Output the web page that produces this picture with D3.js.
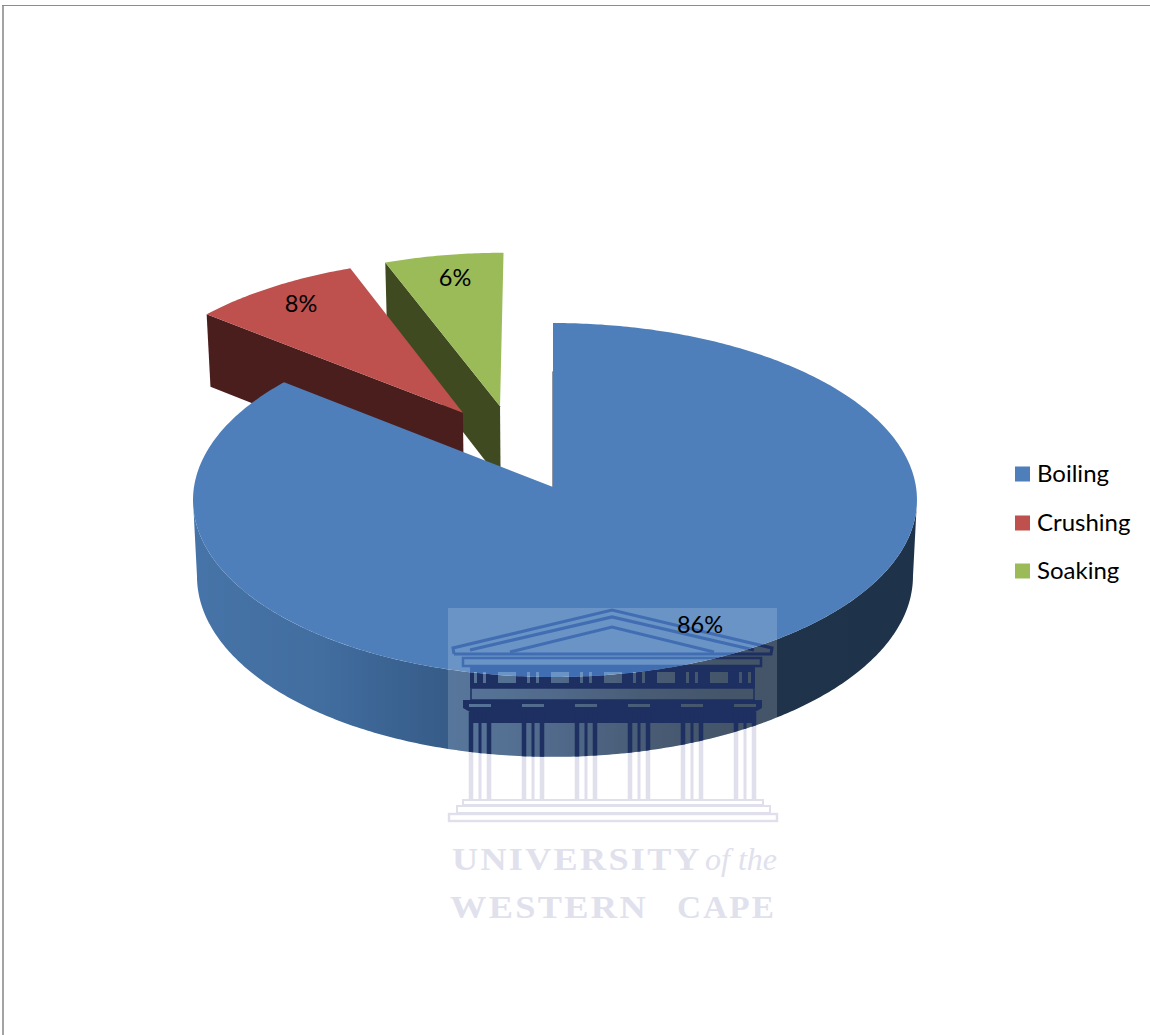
<!DOCTYPE html>
<html>
<head>
<meta charset="utf-8">
<script src="https://cdn.jsdelivr.net/npm/d3@7"></script>
<style>
html,body{margin:0;padding:0;background:#fff;}
svg{display:block;}
</style>
</head>
<body>
<svg id="chart" width="1150" height="1035"></svg>
<script>
// ---- data ----
const categories = ["Boiling", "Crushing", "Soaking"];
const values = [85.7, 8.4, 5.9];
const labels = ["86%", "8%", "6%"];

// ---- style ----
const topColors = ["#4e7fbb", "#be504d", "#9bbb59"];
const wallColors = [null, "#4b1e1e", "#3f4a21"];
const explode = [[0, 0], [-0.258, -0.435], [-0.152, -0.475]];
const labelPos = [[700, 625], [301, 304], [455, 278]];
const legendY = [474, 523, 571];

// ---- perspective projection of the unit disc ----
const K = -0.0734, DEPTH = 76, BOTTOM_SCALE = 0.989, SKEW = 2;
const xS = d3.scaleLinear().domain([-1, 1]).range([553 - 361, 553 + 361]);
const yS = d3.scaleLinear().domain([-1, 1]).range([487 - 176, 487 + 176]);
function project(u, v, low) {
  const den = 1 + K * v, s = low ? BOTTOM_SCALE : 1;
  return [xS(s * u / den) + SKEW * u * u, yS(s * v / den) + (low ? DEPTH / den : 0)];
}
const line = d3.line().curve(d3.curveLinear);
const pie = d3.pie().sort(null).value(d => d)(values);

function rim(a0, a1, off, low) {
  const n = Math.max(4, Math.ceil((a1 - a0) * 90));
  return d3.range(n + 1).map(i => {
    const a = a0 + (a1 - a0) * i / n;
    return project(off[0] + Math.sin(a), off[1] - Math.cos(a), low);
  });
}
function topPath(d, off) {
  return line([project(off[0], off[1], false), ...rim(d.startAngle, d.endAngle, off, false)]) + "Z";
}
function radialWall(a, off) {
  const o = [off[0] + Math.sin(a), off[1] - Math.cos(a)];
  return line([project(off[0], off[1], false), project(o[0], o[1], false),
               project(o[0], o[1], true), project(off[0], off[1], true)]) + "Z";
}

const svg = d3.select("#chart");
const defs = svg.append("defs");

// wall gradient
const grad = defs.append("linearGradient").attr("id", "wallGrad")
  .attr("gradientUnits", "userSpaceOnUse")
  .attr("x1", xS(-1)).attr("x2", xS(1)).attr("y1", 0).attr("y2", 0);
[[0, "#4774a8"], [0.18, "#416d9f"], [0.36, "#365b87"], [0.5, "#2e4c74"], [0.62, "#243c5a"], [0.74, "#1f334b"], [1, "#1e3249"]]
  .forEach(s => grad.append("stop").attr("offset", s[0]).attr("stop-color", s[1]));

// page frame
svg.append("line").attr("x1", 2).attr("x2", 1150).attr("y1", 5.5).attr("y2", 5.5).attr("stroke", "#8c8c8c").attr("stroke-width", 1.2);
svg.append("line").attr("x1", 3).attr("x2", 3).attr("y1", 5).attr("y2", 1035).attr("stroke", "#8c8c8c").attr("stroke-width", 1.6);

// watermark
const colCenters = [480, 533, 586, 639, 692, 745];
const windows = [498, 551, 604, 657, 710];
function building(g, color) {
  const stroke = (pts, w) => g.append("path").attr("d", line(pts)).attr("fill", "none")
    .attr("stroke", color).attr("stroke-width", w).attr("stroke-linejoin", "miter");
  stroke([[454, 654], [453, 648], [612, 610], [772, 648], [771, 654], [454, 654]], 3);
  stroke([[470, 650], [612, 617], [754, 650]], 3.2);
  stroke([[510, 652], [612, 627], [714, 652]], 3);
  g.append("rect").attr("x", 463).attr("y", 658).attr("width", 298).attr("height", 8)
    .attr("fill", "none").attr("stroke", color).attr("stroke-width", 2.5);
  // frieze with windows and slits
  let d = "M470 667H755V688H470Z";
  windows.forEach(x => { d += `M${x} 672h18v11h-18Z`; });
  colCenters.forEach(x => { d += `M${x - 6} 672h3v11h-3Z M${x + 3} 672h3v11h-3Z`; });
  g.append("path").attr("d", d).attr("fill", color).attr("fill-rule", "evenodd");
  g.append("rect").attr("x", 471).attr("y", 688).attr("width", 283).attr("height", 12)
    .attr("fill", "none").attr("stroke", color).attr("stroke-width", 1.5);
  // dark band with capitals
  let b = "M463 700H762V708L755 712V723H470V712L463 708Z";
  colCenters.forEach(x => { b += `M${x - 11} 704h22v3h-22Z`; });
  g.append("path").attr("d", b).attr("fill", color).attr("fill-rule", "evenodd");
  // columns
  colCenters.forEach(x => [[-9, 4.5], [0, 3], [9, 4.5]].forEach(o => {
    g.append("rect").attr("x", x + o[0] - o[1] / 2).attr("y", 712).attr("width", o[1]).attr("height", 88).attr("fill", color);
  }));
  // steps
  g.append("rect").attr("x", 463).attr("y", 800).attr("width", 300).attr("height", 5).attr("fill", "none").attr("stroke", color).attr("stroke-width", 2);
  g.append("rect").attr("x", 457).attr("y", 806).attr("width", 313).attr("height", 7).attr("fill", "none").attr("stroke", color).attr("stroke-width", 2);
  g.append("rect").attr("x", 449).attr("y", 814).attr("width", 328).attr("height", 7).attr("fill", "none").attr("stroke", color).attr("stroke-width", 2.4);
}
const wm = svg.append("g");
building(wm, "#dfe0ec");
const wmText = [
  ["UNIVERSITY", 452, 870, 250, "bold", "normal", 31],
  ["of the", 705, 870, 72, "normal", "italic", 31],
  ["WESTERN", 450, 918, 198, "bold", "normal", 31],
  ["CAPE", 677, 918, 99, "bold", "normal", 31]
];
wm.selectAll("text").data(wmText).join("text")
  .attr("x", d => d[1]).attr("y", d => d[2])
  .attr("textLength", d => d[3]).attr("lengthAdjust", "spacingAndGlyphs")
  .attr("font-weight", d => d[4]).attr("font-style", d => d[5]).attr("font-size", d => d[6])
  .attr("letter-spacing", d => d[0] === "of the" ? 0 : 2)
  .attr("font-family", "'Liberation Serif', serif").attr("fill", "#e0e1ec")
  .text(d => d[0]);

// exploded slices, back to front
[2, 1].forEach(i => {
  const d = pie[i], off = explode[i];
  svg.append("path").attr("d", radialWall(d.startAngle, off)).attr("fill", wallColors[i]);
  svg.append("path").attr("d", topPath(d, off)).attr("fill", topColors[i]);
});

// main slice: the wall runs between the two silhouette points of the rim,
// where the projected width of the disc is greatest
const main = pie[0], off0 = explode[0];
const silA = Math.acos(K), silB = 2 * Math.PI - silA;
const wallD = line([...rim(silA, silB, off0, false), ...rim(silA, silB, off0, true).reverse()]) + "Z";
const topD = topPath(main, off0);
svg.append("path").attr("d", wallD).attr("fill", "url(#wallGrad)");
svg.append("path").attr("d", line([project(0, -0.69, false), project(0, 0, false)]))
  .attr("stroke", "#1f334b").attr("stroke-width", 1).attr("fill", "none");
svg.append("path").attr("d", topD).attr("fill", topColors[0]);

// watermark over the pie
defs.append("clipPath").attr("id", "clipTop").append("path").attr("d", topD);
defs.append("clipPath").attr("id", "clipWall").append("path").attr("d", wallD);
[["clipWall", "#1e2f62"], ["clipTop", "#416eb3"]].forEach(([id, col]) => {
  const g = svg.append("g").attr("clip-path", `url(#${id})`);
  g.append("rect").attr("x", 448).attr("y", 608).attr("width", 329).attr("height", 214)
    .attr("fill", "#fff").attr("fill-opacity", id === "clipWall" ? 0.17 : 0.16);
  building(g, col);
});

// data labels
svg.selectAll("text.lab").data(labels).join("text").attr("class", "lab")
  .attr("x", (d, i) => labelPos[i][0]).attr("y", (d, i) => labelPos[i][1])
  .attr("dy", "0.35em").attr("text-anchor", "middle")
  .attr("font-family", "Lato, 'Open Sans', sans-serif").attr("font-size", 23.5).attr("fill", "#000")
  .text(d => d);

// legend
const leg = svg.selectAll("g.leg").data(categories).join("g").attr("class", "leg")
  .attr("transform", (d, i) => `translate(1015,${legendY[i]})`);
leg.append("rect").attr("x", 0).attr("y", -7.5).attr("width", 15).attr("height", 15)
  .attr("fill", (d, i) => topColors[i]);
leg.append("text").attr("x", 22).attr("dy", "0.35em")
  .attr("font-family", "Lato, 'Open Sans', sans-serif").attr("font-size", 24).attr("fill", "#000")
  .text(d => d);
</script>
</body>
</html>
